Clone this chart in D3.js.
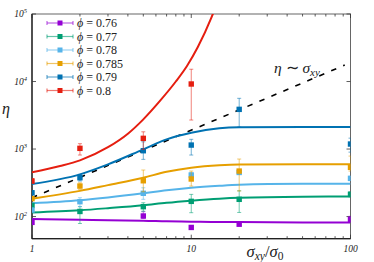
<!DOCTYPE html>
<html><head><meta charset="utf-8">
<script src="https://cdn.jsdelivr.net/npm/d3@7"></script>
<style>body{margin:0;background:#fff}svg{display:block}</style>
</head><body>
<svg id="c" width="374" height="262"></svg>
<script>
// ---- data ----
const phiLabels = ["0.76", "0.77", "0.78", "0.785", "0.79", "0.8"];
const seriesColors = ["#9400d3", "#009e73", "#56b4e9", "#e69f00", "#0072b2", "#e51e10"];
const sigma = [1, 2, 5, 10, 20, 100];
const eta076 = [82, null, 102, 69, 77, 91];
const lo076  = [79, null, 94, 66, 74, 83];
const hi076  = [86, null, 118, 72, 80, 101];
const eta077 = [146, 119, 140, 168, 180, 214];
const lo077  = [139, 79, 120, 114, 115, 195];
const hi077  = [153, 140, 160, 213, 241, 232];
const eta078 = [125, 166, 221, 412, 450, 368];
const lo078  = [119, 141, 180, 376, 420, 340];
const hi078  = [131, 190, 267, 447, 480, 395];
const eta0785 = [184, 283, 339, 360, 472, 536];
const lo0785  = [175, 253, 233, 283, 239, 472];
const hi0785  = [194, 316, 489, 472, 711, 787];
const eta079 = [225, 376, 944, 1145, 3870, 1186];
const lo079  = [212, 336, 703, 815, 2120, 900];
const hi079  = [240, 421, 1280, 1393, 5640, 1450];
const eta08 = [336, 1024, 1440, 9190, null, null];
const lo08  = [310, 815, 990, 2690, null, null];
const hi08  = [365, 1200, 1800, 15200, null, null];

const fitSigma = [1, 2, 3, 5, 7, 10, 15, 20, 50, 100];
const fit076  = [92, 90, 88, 87, 85, 84, 83, 83, 82, 82];
const fit077  = [115, 124, 133, 147, 160, 172, 184, 190, 197, 198];
const fit078  = [158, 175, 192, 221, 245, 267, 285, 295, 305, 306];
const fit0785 = [184, 240, 292, 376, 460, 528, 575, 590, 595, 595];
const fit079  = [303, 422, 593, 990, 1390, 1740, 2030, 2100, 2120, 2120];
const fit08Sigma = [1, 1.5, 2, 3, 4, 5, 6.4, 8, 9.4, 11, 13.4, 15];
const fit08 = [452, 560, 680, 1064, 1687, 2754, 5250, 10000, 17000, 32400, 89000, 178000];

const slopeSigma = [1, 92];
const slopeEta = [190, 17500];

const xTickValues = [1, 10, 100];
const xTickLabels = ["1", "10", "100"];
const yTickValues = [1e2, 1e3, 1e4, 1e5];
const yTickExps = ["2", "3", "4", "5"];

// ---- layout ----
const svg = d3.select("#c");
const L = 32, T = 14, R = 350.5, B = 238.7;
const x = d3.scaleLog().domain([1, 100]).range([L, R]);
const y = d3.scaleLog().domain([47, 1e5]).range([B, T]);

const series = [
  {eta: eta076, lo: lo076, hi: hi076, fitX: fitSigma, fit: fit076},
  {eta: eta077, lo: lo077, hi: hi077, fitX: fitSigma, fit: fit077},
  {eta: eta078, lo: lo078, hi: hi078, fitX: fitSigma, fit: fit078},
  {eta: eta0785, lo: lo0785, hi: hi0785, fitX: fitSigma, fit: fit0785},
  {eta: eta079, lo: lo079, hi: hi079, fitX: fitSigma, fit: fit079},
  {eta: eta08, lo: lo08, hi: hi08, fitX: fit08Sigma, fit: fit08}
];

svg.append("defs").append("clipPath").attr("id", "clip")
  .append("rect").attr("x", L).attr("y", T).attr("width", R - L).attr("height", B - T);

const serif = "'Liberation Serif','Times New Roman',serif";

// frame
svg.append("rect").attr("x", L).attr("y", T).attr("width", R - L).attr("height", B - T)
  .attr("fill", "none").attr("stroke", "#666").attr("stroke-width", 1);
svg.append("line").attr("x1", L).attr("x2", L).attr("y1", T).attr("y2", B).attr("stroke", "#000").attr("stroke-width", 1.1);
svg.append("line").attr("x1", L).attr("x2", R).attr("y1", B).attr("y2", B).attr("stroke", "#000").attr("stroke-width", 1.1);

// x ticks (major + minor) bottom and top, inward
const minorX = [];
[1, 10].forEach(d => { for (let k = 2; k <= 9; k++) minorX.push(d * k); });
const tg = svg.append("g").attr("stroke", "#333").attr("stroke-width", 0.8);
minorX.forEach(v => {
  tg.append("line").attr("x1", x(v)).attr("x2", x(v)).attr("y1", B).attr("y2", B - 2.5);
  tg.append("line").attr("x1", x(v)).attr("x2", x(v)).attr("y1", T).attr("y2", T + 2.5);
});
xTickValues.forEach(v => {
  tg.append("line").attr("x1", x(v)).attr("x2", x(v)).attr("y1", B).attr("y2", B - 4);
  tg.append("line").attr("x1", x(v)).attr("x2", x(v)).attr("y1", T).attr("y2", T + 4);
});
yTickValues.forEach(v => {
  tg.append("line").attr("x1", L).attr("x2", L + 4).attr("y1", y(v)).attr("y2", y(v));
  tg.append("line").attr("x1", R).attr("x2", R - 4).attr("y1", y(v)).attr("y2", y(v));
});

// tick labels
xTickValues.forEach((v, i) => {
  svg.append("text").attr("x", x(v)).attr("y", 252).attr("text-anchor", "middle")
    .attr("font-family", serif).attr("font-style", "italic").attr("font-size", 9.5)
    .attr("fill", "#222").text(xTickLabels[i]);
});
yTickValues.forEach((v, i) => {
  const t = svg.append("text").attr("x", 27).attr("y", y(v) + 3).attr("text-anchor", "end")
    .attr("font-family", serif).attr("font-style", "italic").attr("font-size", 9.5).attr("fill", "#222");
  t.append("tspan").text("10");
  t.append("tspan").attr("dy", -4).attr("font-size", 6.5).text(yTickExps[i]);
});

// axis labels
svg.append("text").attr("x", 2).attr("y", 114).attr("font-family", serif).attr("font-style", "italic")
  .attr("font-size", 16).attr("fill", "#222").text("η");
const xl = svg.append("text").attr("x", 265).attr("y", 257).attr("text-anchor", "middle")
  .attr("font-family", serif).attr("font-size", 16.5).attr("fill", "#222");
xl.append("tspan").attr("font-style", "italic").text("σ");
xl.append("tspan").attr("font-style", "italic").attr("font-size", 11.5).attr("dy", 3).text("xy");
xl.append("tspan").attr("dy", -3).text("/");
xl.append("tspan").attr("font-style", "italic").text("σ");
xl.append("tspan").attr("font-size", 11.5).attr("dy", 3).text("0");

// plot content
const plot = svg.append("g").attr("clip-path", "url(#clip)");
const lineGen = d3.line().x(d => x(d[0])).y(d => y(d[1])).curve(d3.curveMonotoneX);

// dashed slope line
plot.append("path").datum(slopeSigma.map((s, i) => [s, slopeEta[i]]))
  .attr("d", d3.line().x(d => x(d[0])).y(d => y(d[1])))
  .attr("fill", "none").attr("stroke", "#000").attr("stroke-width", 1.6)
  .attr("stroke-dasharray", "5.5,7.5");
const ann = svg.append("text").attr("x", 274).attr("y", 73).attr("font-family", serif)
  .attr("font-size", 15.5).attr("fill", "#222");
ann.append("tspan").attr("font-style", "italic").text("η");
ann.append("tspan").text(" ∼ ");
ann.append("tspan").attr("font-style", "italic").text("σ");
ann.append("tspan").attr("font-style", "italic").attr("font-size", 11).attr("dy", 3).text("xy");

// fit curves
series.forEach((s, i) => {
  plot.append("path").datum(s.fitX.map((v, j) => [v, s.fit[j]]))
    .attr("d", lineGen).attr("fill", "none").attr("stroke", seriesColors[i]).attr("stroke-width", 2);
});

// error bars + markers
series.forEach((s, i) => {
  const g = plot.append("g");
  const c = seriesColors[i];
  sigma.forEach((v, j) => {
    if (s.eta[j] == null) return;
    const px = x(v);
    const eb = g.append("g").attr("stroke", c).attr("stroke-opacity", 0.55).attr("stroke-width", 1);
    eb.append("line").attr("x1", px).attr("x2", px).attr("y1", y(s.lo[j])).attr("y2", y(s.hi[j]));
    eb.append("line").attr("x1", px - 2).attr("x2", px + 2).attr("y1", y(s.lo[j])).attr("y2", y(s.lo[j]));
    eb.append("line").attr("x1", px - 2).attr("x2", px + 2).attr("y1", y(s.hi[j])).attr("y2", y(s.hi[j]));
    g.append("rect").attr("x", px - 2.7).attr("y", y(s.eta[j]) - 2.7).attr("width", 5.4).attr("height", 5.4)
      .attr("fill", c);
  });
});

// legend
const lg = svg.append("g");
phiLabels.forEach((p, i) => {
  const yy = 23 + i * 13.5;
  const c = seriesColors[i];
  const g = lg.append("g").attr("stroke", c).attr("stroke-opacity", 0.6).attr("stroke-width", 1.2);
  g.append("line").attr("x1", 47).attr("x2", 73).attr("y1", yy).attr("y2", yy);
  g.append("line").attr("x1", 47).attr("x2", 47).attr("y1", yy - 2).attr("y2", yy + 2);
  g.append("line").attr("x1", 73).attr("x2", 73).attr("y1", yy - 2).attr("y2", yy + 2);
  lg.append("rect").attr("x", 57.5).attr("y", yy - 2.5).attr("width", 5).attr("height", 5).attr("fill", c);
  const t = lg.append("text").attr("x", 77).attr("y", yy + 4.3).attr("font-family", serif)
    .attr("font-size", 12).attr("fill", "#222");
  t.append("tspan").attr("font-style", "italic").text("ϕ");
  t.append("tspan").text(" = " + p);
});
</script>
</body></html>
